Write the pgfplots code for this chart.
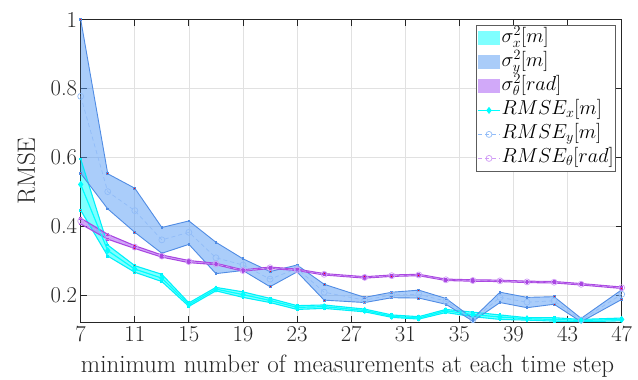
\RequirePackage{fix-cm}
\documentclass[border=0pt]{standalone}
\usepackage{fontspec}
\usepackage{pgfplots}
\usepackage{pgfplotstable}
\pgfplotsset{compat=1.18}
\usepgfplotslibrary{fillbetween}

\definecolor{axgray}{RGB}{38,38,38}
\definecolor{gridgray}{RGB}{225,225,225}
\definecolor{cyanc}{RGB}{0,255,255}
\definecolor{cyanedge}{RGB}{0,240,250}
\definecolor{bluefill}{RGB}{85,155,245}
\definecolor{blueedge}{RGB}{80,140,228}
\definecolor{purpfill}{RGB}{165,85,245}
\definecolor{purpedge}{RGB}{170,70,225}
\definecolor{rmsey}{RGB}{145,188,248}
\definecolor{rmset}{RGB}{208,155,246}

\pgfplotstableread{
x  M     U     L
7  0.521 0.595 0.446
9  0.329 0.345 0.313
11 0.275 0.285 0.266
13 0.249 0.260 0.239
15 0.172 0.177 0.167
17 0.217 0.222 0.212
19 0.201 0.209 0.193
21 0.184 0.190 0.178
23 0.164 0.169 0.158
25 0.166 0.171 0.161
28 0.155 0.159 0.151
30 0.138 0.142 0.135
32 0.133 0.137 0.130
34 0.154 0.158 0.149
36 0.143 0.150 0.137
38 0.136 0.142 0.129
40 0.131 0.134 0.127
42 0.129 0.134 0.124
44 0.126 0.129 0.122
47 0.129 0.133 0.125
}\tabX

\pgfplotstableread{
x  M     U     L
7  0.777 1.000 0.553
9  0.500 0.552 0.450
11 0.445 0.510 0.382
13 0.360 0.396 0.321
15 0.382 0.415 0.347
17 0.308 0.353 0.262
19 0.287 0.305 0.271
21 0.246 0.268 0.224
23 0.277 0.287 0.267
25 0.208 0.231 0.185
28 0.185 0.193 0.178
30 0.200 0.208 0.192
32 0.202 0.214 0.191
34 0.182 0.190 0.173
36 0.128 0.132 0.124
38 0.193 0.208 0.178
40 0.179 0.193 0.163
42 0.183 0.195 0.173
44 0.127 0.132 0.122
47 0.202 0.215 0.187
}\tabY

\pgfplotstableread{
x  M     U     L
7  0.415 0.423 0.406
9  0.369 0.376 0.362
11 0.339 0.343 0.335
13 0.313 0.316 0.310
15 0.297 0.300 0.294
17 0.290 0.292 0.288
19 0.271 0.273 0.269
21 0.279 0.281 0.277
23 0.273 0.275 0.271
25 0.260 0.262 0.258
28 0.251 0.253 0.249
30 0.256 0.258 0.254
32 0.258 0.260 0.256
34 0.244 0.246 0.242
36 0.242 0.244 0.240
38 0.241 0.243 0.239
40 0.238 0.240 0.236
42 0.237 0.239 0.235
44 0.231 0.233 0.229
47 0.221 0.223 0.219
}\tabT

\begin{document}
\begin{tikzpicture}
\begin{axis}[
  at={(80.7pt,58pt)}, anchor=south west,
  scale only axis, width=541pt, height=302.5pt,
  xmin=7, xmax=47, ymin=0.1215, ymax=1.0,
  xtick={7,11,15,19,23,27,31,35,39,43,47},
  ytick={0.2,0.4,0.6,0.8,1},
  yticklabels={0.2,0.4,0.6,0.8,1},
  tick align=inside, major tick length=6pt,
  grid=major, grid style={gridgray, line width=0.8pt},
  axis line style={axgray, line width=0.9pt},
  every tick/.style={axgray, line width=0.9pt},
  ticklabel style={font=\fontsize{22.7}{27}\selectfont, text=axgray},
  xticklabel style={yshift=-4pt, inner ysep=1pt},
  label style={font=\fontsize{25}{30}\selectfont, text=axgray},
  xlabel={minimum number of measurements at each time step},
  ylabel={RMSE},
  xlabel style={at={(axis description cs:0.4932,-0.167)}, anchor=base, inner ysep=1pt},
  ylabel style={at={(axis description cs:-0.0845,0.5)}, anchor=base},
  legend cell align=left,
  legend style={at={(1,1)}, anchor=north east, xshift=-5.7pt, yshift=-5.5pt,
    draw=axgray!75, line width=0.8pt, fill=white,
    font=\fontsize{20.2}{24}\selectfont, inner sep=1pt, row sep=0pt, column sep=0pt,
    nodes={inner xsep=1pt, inner ysep=2pt, text height=14pt, text depth=6pt}},
  legend image code/.code={\draw[mark repeat=2,mark phase=2,#1] plot coordinates {(0pt,0pt) (11pt,0pt) (22pt,0pt)};},
  redm/.style={mark=square*, mark size=0.9pt, mark options={solid, fill=red, draw=none}},
  fillleg/.style={legend image code/.code={\fill[##1] (0pt,-7pt) rectangle (22pt,7pt);}},
]
% invisible boundary paths
\addplot[draw=none, name path=xU, forget plot] table[x=x,y=U]{\tabX};
\addplot[draw=none, name path=xL, forget plot] table[x=x,y=L]{\tabX};
\addplot[draw=none, name path=yU, forget plot] table[x=x,y=U]{\tabY};
\addplot[draw=none, name path=yL, forget plot] table[x=x,y=L]{\tabY};
\addplot[draw=none, name path=tU, forget plot] table[x=x,y=U]{\tabT};
\addplot[draw=none, name path=tL, forget plot] table[x=x,y=L]{\tabT};
% fills
\addplot[fill=cyanc, fill opacity=0.5, draw=none, fillleg] fill between[of=xU and xL];
\addlegendentry{$\sigma_x^2[m]$}
\addplot[fill=bluefill, fill opacity=0.5, draw=none, fillleg] fill between[of=yU and yL];
\addlegendentry{$\sigma_y^2[m]$}
\addplot[fill=purpfill, fill opacity=0.5, draw=none, fillleg] fill between[of=tU and tL];
\addlegendentry{$\sigma_\theta^2[rad]$}
% edges with red vertex marks
\addplot[cyanedge, line width=1.1pt, redm, forget plot] table[x=x,y=U]{\tabX};
\addplot[cyanedge, line width=1.1pt, redm, forget plot] table[x=x,y=L]{\tabX};
\addplot[blueedge, line width=0.9pt, redm, forget plot] table[x=x,y=U]{\tabY};
\addplot[blueedge, line width=0.9pt, redm, forget plot] table[x=x,y=L]{\tabY};
\addplot[purpedge, line width=1.1pt, redm, forget plot] table[x=x,y=U]{\tabT};
\addplot[purpedge, line width=1.1pt, redm, forget plot] table[x=x,y=L]{\tabT};
% means
\addplot[cyanc, line width=1.2pt, mark=diamond*, mark size=2.6pt, mark options={solid, fill=cyanc}] table[x=x,y=M]{\tabX};
\addlegendentry{$RMSE_x[m]$}
\addplot[rmsey, line width=0.7pt, dash pattern=on 4pt off 3pt, mark=o, mark size=3pt, mark options={solid}] table[x=x,y=M]{\tabY};
\addlegendentry{$RMSE_y[m]$}
\addplot[rmset, line width=0.7pt, dash pattern=on 4pt off 3pt, mark=o, mark size=3pt, mark options={solid}] table[x=x,y=M]{\tabT};
\addlegendentry{$RMSE_\theta[rad]$}
\end{axis}
\pgfresetboundingbox
\path[use as bounding box] (0,0) rectangle (638pt,380pt);
\end{tikzpicture}
\end{document}
